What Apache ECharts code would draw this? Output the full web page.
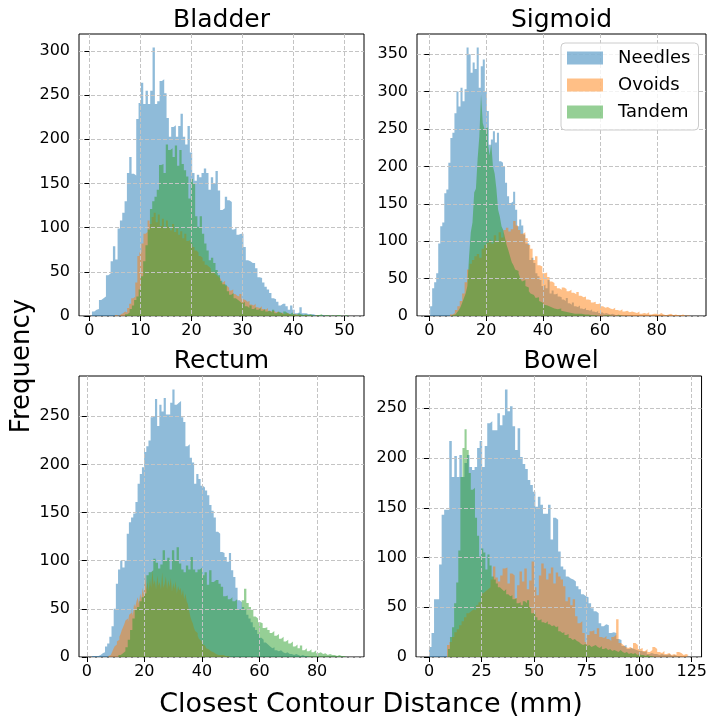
<!DOCTYPE html>
<html>
<head>
<meta charset="utf-8">
<script src="https://cdn.jsdelivr.net/npm/echarts@6/dist/echarts.min.js"></script>
<style>
  html, body { margin: 0; padding: 0; background: #ffffff; }
  #chart { width: 710px; height: 721px; }
</style>
</head>
<body>
<div id="chart"></div>
<script>
// Organs (one panel each) and applicator types (one histogram each)
const panelTitles = ['Bladder', 'Sigmoid', 'Rectum', 'Bowel'];
const seriesNames = ['Needles', 'Ovoids', 'Tandem'];

// Bladder: [first bin edge, last bin edge] for Needles, Ovoids, Tandem, then 100 bin counts each
const bladderRanges = [[0.5, 46.2], [5.0, 45.0], [7.0, 51.3]];
const bladderNeedles = [
  5, 7, 8, 18, 20, 22, 46, 48, 62, 79,
  64, 99, 108, 117, 130, 162, 180, 161, 159, 223,
  241, 264, 240, 255, 240, 255, 304, 240, 243, 266,
  268, 252, 224, 203, 214, 216, 203, 215, 229, 203,
  194, 215, 185, 162, 153, 160, 157, 162, 167, 162,
  143, 157, 150, 164, 142, 120, 122, 135, 131, 129,
  98, 100, 92, 93, 93, 78, 63, 62, 60, 60,
  54, 44, 43, 38, 33, 30, 26, 20, 19, 16,
  12, 14, 14, 11, 7, 12, 7, 3, 4, 10,
  3, 3, 2, 2, 2, 1, 1, 0, 1, 1
];
const bladderOvoids = [
  1, 0, 2, 3, 5, 4, 9, 14, 20, 22,
  38, 68, 72, 82, 93, 95, 108, 104, 112, 117,
  106, 115, 102, 110, 99, 108, 101, 97, 104, 95,
  99, 92, 96, 88, 93, 85, 86, 82, 78, 74,
  72, 68, 66, 62, 58, 56, 54, 50, 48, 46,
  44, 42, 38, 40, 34, 32, 29, 30, 25, 23,
  22, 25, 19, 18, 16, 17, 13, 12, 14, 10,
  9, 11, 8, 7, 9, 6, 5, 6, 4, 5,
  3, 4, 2, 3, 3, 2, 1, 2, 2, 1,
  1, 0, 1, 1, 0, 1, 0, 0, 1, 1
];
const bladderTandem = [
  2, 4, 8, 12, 18, 22, 30, 45, 62, 80,
  98, 121, 130, 135, 143, 171, 172, 162, 194, 188,
  190, 180, 193, 170, 188, 172, 165, 158, 133, 155,
  150, 113, 101, 113, 93, 82, 74, 63, 66, 60,
  52, 46, 40, 36, 35, 28, 24, 26, 20, 18,
  16, 14, 16, 11, 9, 12, 8, 10, 7, 9,
  6, 8, 5, 6, 4, 7, 3, 5, 4, 2,
  5, 3, 2, 4, 2, 1, 3, 2, 1, 2,
  1, 2, 1, 0, 1, 1, 2, 0, 1, 1,
  0, 1, 0, 1, 1, 0, 0, 1, 0, 1
];

// Sigmoid
const sigmoidRanges = [[0.3, 71.5], [7.3, 92.7], [8.0, 68.0]];
const sigmoidNeedles = [
  13, 37, 45, 57, 97, 120, 125, 164, 169, 205,
  238, 245, 271, 300, 280, 305, 287, 303, 359, 350,
  325, 339, 330, 359, 305, 334, 343, 300, 274, 229,
  236, 247, 232, 245, 207, 205, 200, 178, 160, 151,
  153, 166, 142, 120, 129, 121, 109, 97, 97, 75,
  78, 71, 57, 53, 48, 40, 42, 37, 48, 30,
  34, 29, 30, 26, 25, 22, 20, 24, 17, 15,
  18, 13, 12, 14, 10, 9, 11, 8, 7, 9,
  6, 5, 7, 4, 5, 3, 4, 3, 2, 3,
  2, 1, 2, 1, 1, 0, 1, 0, 1, 1
];
const sigmoidOvoids = [
  2, 4, 8, 13, 20, 30, 45, 62, 70, 75,
  80, 83, 78, 90, 95, 98, 102, 97, 108, 100,
  112, 105, 115, 118, 113, 116, 127, 121, 115, 110,
  112, 104, 95, 90, 75, 80, 68, 66, 57, 58,
  52, 46, 44, 40, 37, 35, 38, 36, 33, 35,
  31, 29, 32, 27, 25, 26, 22, 21, 18, 19,
  16, 17, 13, 11, 12, 10, 9, 11, 8, 7,
  9, 6, 7, 5, 6, 5, 4, 6, 3, 4,
  3, 5, 2, 3, 3, 2, 4, 2, 1, 2,
  3, 1, 2, 1, 1, 2, 0, 1, 0, 1
];
const sigmoidTandem = [
  1, 2, 3, 5, 8, 12, 18, 24, 30, 40,
  80, 112, 125, 165, 170, 210, 240, 296, 258, 250,
  252, 232, 215, 230, 200, 190, 170, 142, 133, 120,
  115, 105, 95, 88, 80, 72, 68, 62, 60, 57,
  50, 46, 48, 40, 38, 33, 30, 28, 26, 24,
  25, 20, 18, 19, 15, 14, 13, 12, 14, 10,
  11, 9, 8, 10, 7, 6, 8, 5, 6, 4,
  5, 3, 4, 3, 2, 3, 2, 2, 1, 2,
  1, 1, 0, 1, 1, 0, 1, 0, 0, 1,
  0, 1, 0, 0, 1, 0, 0, 1, 0, 1
];

// Rectum
const rectumRanges = [[1.8, 77.3], [7.5, 50.0], [11.0, 91.8]];
const rectumNeedles = [
  1, 1, 1, 2, 4, 5, 11, 14, 21, 32,
  50, 76, 91, 100, 93, 100, 128, 140, 145, 149,
  161, 180, 190, 197, 213, 219, 225, 249, 250, 268,
  240, 262, 255, 269, 252, 252, 264, 278, 262, 264,
  266, 249, 244, 219, 221, 207, 202, 180, 190, 185,
  178, 176, 173, 168, 158, 152, 145, 130, 128, 109,
  108, 104, 99, 108, 90, 83, 72, 59, 57, 52,
  49, 44, 40, 36, 31, 28, 24, 20, 18, 15,
  13, 11, 9, 10, 7, 6, 7, 5, 4, 5,
  3, 3, 2, 3, 2, 1, 2, 1, 1, 1
];
const rectumOvoids = [
  1, 2, 3, 5, 8, 11, 13, 16, 18, 21,
  24, 28, 31, 34, 38, 40, 36, 44, 46, 50,
  43, 55, 52, 58, 62, 55, 66, 60, 72, 65,
  86, 70, 78, 68, 82, 72, 90, 75, 80, 70,
  85, 74, 78, 70, 88, 72, 76, 84, 70, 80,
  73, 82, 68, 77, 71, 79, 66, 74, 69, 72,
  64, 70, 60, 66, 58, 55, 48, 42, 38, 35,
  30, 27, 25, 22, 19, 17, 15, 13, 12, 10,
  9, 8, 7, 6, 5, 5, 4, 3, 3, 2,
  3, 2, 1, 2, 1, 1, 0, 1, 0, 1
];
const rectumTandem = [
  2, 4, 6, 10, 18, 28, 40, 49, 52, 58,
  62, 66, 85, 88, 90, 102, 98, 92, 96, 111,
  100, 103, 91, 111, 100, 114, 97, 91, 88, 95,
  91, 104, 91, 88, 91, 93, 85, 88, 75, 90,
  78, 80, 80, 76, 73, 63, 64, 60, 62, 58,
  60, 49, 50, 59, 71, 56, 52, 49, 42, 40,
  36, 35, 30, 31, 28, 25, 27, 22, 24, 19,
  21, 16, 18, 14, 16, 11, 13, 9, 12, 7,
  9, 6, 8, 5, 7, 4, 5, 3, 4, 2,
  3, 2, 2, 1, 2, 1, 1, 0, 0, 1
];

// Bowel
const bowelRanges = [[0.0, 120.5], [8.6, 123.5], [9.0, 108.0]];
const bowelNeedles = [
  10, 24, 58, 58, 93, 143, 148, 148, 217, 181,
  202, 181, 203, 181, 195, 203, 191, 188, 191, 210,
  217, 191, 212, 235, 237, 228, 228, 245, 233, 243,
  269, 247, 252, 232, 208, 230, 201, 194, 189, 178,
  173, 166, 151, 161, 153, 144, 144, 153, 118, 140,
  138, 106, 91, 88, 81, 79, 78, 76, 71, 68,
  63, 61, 60, 54, 49, 46, 44, 34, 31, 33,
  32, 24, 25, 24, 18, 17, 11, 12, 8, 9,
  8, 7, 6, 6, 5, 6, 3, 4, 3, 3,
  2, 3, 2, 2, 3, 1, 2, 1, 1, 1
];
const bowelOvoids = [
  12, 15, 20, 25, 28, 32, 36, 40, 44, 46,
  48, 47, 52, 55, 64, 66, 68, 70, 78, 91,
  80, 76, 82, 89, 90, 74, 84, 82, 59, 72,
  86, 76, 89, 68, 77, 96, 70, 62, 82, 94,
  89, 78, 84, 90, 74, 85, 81, 78, 71, 56,
  60, 52, 58, 41, 34, 36, 24, 15, 22, 26,
  27, 23, 29, 20, 19, 21, 18, 16, 20, 22,
  38, 14, 12, 10, 9, 10, 8, 14, 12, 8,
  9, 6, 8, 5, 7, 10, 8, 5, 4, 6,
  3, 4, 2, 3, 2, 5, 4, 2, 3, 2
];
const bowelTandem = [
  8, 20, 30, 54, 75, 107, 181, 210, 229, 208,
  185, 168, 170, 140, 122, 101, 109, 105, 88, 103,
  92, 81, 78, 74, 70, 68, 66, 68, 63, 61,
  62, 58, 59, 54, 55, 52, 56, 54, 57, 50,
  44, 45, 40, 37, 38, 35, 34, 36, 33, 31,
  32, 30, 31, 26, 24, 25, 22, 23, 19, 17,
  18, 16, 15, 13, 12, 13, 11, 12, 10, 11,
  12, 10, 9, 11, 8, 9, 7, 8, 6, 7,
  6, 5, 7, 5, 4, 5, 3, 4, 3, 4,
  2, 3, 2, 2, 1, 2, 1, 1, 0, 1
];

// Tick labels for each panel
const bladderXTicks = [0, 10, 20, 30, 40, 50];
const bladderYTicks = [0, 50, 100, 150, 200, 250, 300];
const sigmoidXTicks = [0, 20, 40, 60, 80];
const sigmoidYTicks = [0, 50, 100, 150, 200, 250, 300, 350];
const rectumXTicks = [0, 20, 40, 60, 80];
const rectumYTicks = [0, 50, 100, 150, 200, 250];
const bowelXTicks = [0, 25, 50, 75, 100, 125];
const bowelYTicks = [0, 50, 100, 150, 200, 250];

const xAxisTitle = 'Closest Contour Distance (mm)';
const yAxisTitle = 'Frequency';

// ---- assemble panels ----
const panels = [
  { ranges: bladderRanges, counts: [bladderNeedles, bladderOvoids, bladderTandem], xTicks: bladderXTicks, yTicks: bladderYTicks },
  { ranges: sigmoidRanges, counts: [sigmoidNeedles, sigmoidOvoids, sigmoidTandem], xTicks: sigmoidXTicks, yTicks: sigmoidYTicks },
  { ranges: rectumRanges, counts: [rectumNeedles, rectumOvoids, rectumTandem], xTicks: rectumXTicks, yTicks: rectumYTicks },
  { ranges: bowelRanges, counts: [bowelNeedles, bowelOvoids, bowelTandem], xTicks: bowelXTicks, yTicks: bowelYTicks }
];

const FONT = '"DejaVu Sans", "Liberation Sans", sans-serif';
const fills = ['rgba(31,119,180,0.5)', 'rgba(255,127,14,0.5)', 'rgba(44,160,44,0.5)'];

// Plot rectangles (2 x 2 layout)
const gridBoxes = [
  { left: 79, top: 34, width: 285, height: 282 },
  { left: 417, top: 34, width: 289, height: 282 },
  { left: 79, top: 376, width: 285, height: 281 },
  { left: 416, top: 376, width: 290, height: 281 }
];
const titleSpots = [[221.5, 20], [561.5, 20], [221.5, 361], [561, 361]];

// Histogram outline: left edge of every bin plus the closing right edge
function histPoints(range, counts) {
  const w = (range[1] - range[0]) / counts.length;
  const pts = counts.map((c, i) => [range[0] + i * w, c]);
  pts.push([range[1], counts[counts.length - 1]]);
  return pts;
}

const grids = [], xAxes = [], yAxes = [], series = [];
panels.forEach((p, k) => {
  const lo = Math.min(...p.ranges.map(r => r[0]));
  const hi = Math.max(...p.ranges.map(r => r[1]));
  const pad = 0.05 * (hi - lo);
  const top = 1.05 * Math.max(...p.counts.map(c => Math.max(...c)));

  grids.push(Object.assign({ show: true, borderColor: '#000', borderWidth: 1, backgroundColor: 'transparent', containLabel: false }, gridBoxes[k]));

  const split = { show: true, lineStyle: { color: '#c4c4c4', width: 1, type: [4, 2] } };
  xAxes.push({
    type: 'value', gridIndex: k, min: lo - pad, max: hi + pad, z: 3,
    axisLine: { show: false },
    axisTick: { show: true, inside: false, length: 5, lineStyle: { color: '#000', width: 1 }, customValues: p.xTicks },
    axisLabel: { customValues: p.xTicks, fontSize: 16, fontFamily: FONT, color: '#000', margin: 7 },
    splitLine: split
  });
  yAxes.push({
    type: 'value', gridIndex: k, min: 0, max: top, z: 3,
    axisLine: { show: false },
    axisTick: { show: true, inside: false, length: 5, lineStyle: { color: '#000', width: 1 }, customValues: p.yTicks },
    axisLabel: { customValues: p.yTicks, fontSize: 16, fontFamily: FONT, color: '#000', margin: 9 },
    splitLine: split
  });

  seriesNames.forEach((name, s) => {
    series.push({
      type: 'line', name: name, xAxisIndex: k, yAxisIndex: k,
      data: histPoints(p.ranges[s], p.counts[s]),
      step: 'end', symbol: 'none', showSymbol: false, silent: true, z: 2,
      lineStyle: { width: 0, color: fills[s] },
      itemStyle: { color: fills[s] },
      areaStyle: { color: fills[s], opacity: 1, origin: 'start' }
    });
  });
});

const graphics = panelTitles.map((t, k) => ({
  type: 'text', x: titleSpots[k][0], y: titleSpots[k][1], z: 10,
  style: { text: t, font: '25px ' + FONT, fill: '#000', textAlign: 'center', textVerticalAlign: 'middle' }
}));
graphics.push({
  type: 'text', x: 371, y: 705, z: 10,
  style: { text: xAxisTitle, font: '27px ' + FONT, fill: '#000', textAlign: 'center', textVerticalAlign: 'middle' }
});
graphics.push({
  type: 'text', x: 22, y: 366, rotation: Math.PI / 2, z: 10,
  style: { text: yAxisTitle, font: '26px ' + FONT, fill: '#000', textAlign: 'center', textVerticalAlign: 'middle' }
});

const chart = echarts.init(document.getElementById('chart'), null, { renderer: 'canvas' });
chart.setOption({
  animation: false,
  backgroundColor: '#ffffff',
  grid: grids,
  xAxis: xAxes,
  yAxis: yAxes,
  series: series,
  legend: {
    show: true, orient: 'vertical', left: 561, top: 43, z: 6,
    icon: 'rect', itemWidth: 36, itemHeight: 13, itemGap: 9,
    padding: [6, 8, 9, 6],
    backgroundColor: 'rgba(255,255,255,0.8)', borderColor: '#cccccc', borderWidth: 1, borderRadius: 4,
    selectedMode: false,
    itemStyle: { borderWidth: 0 },
    textStyle: { fontSize: 18, fontFamily: FONT, color: '#000', lineHeight: 18, padding: [0, 0, 0, 10] },
    data: seriesNames.map((n, s) => ({ name: n, itemStyle: { color: fills[s], borderWidth: 0 } }))
  },
  graphic: graphics
});
</script>
</body>
</html>
